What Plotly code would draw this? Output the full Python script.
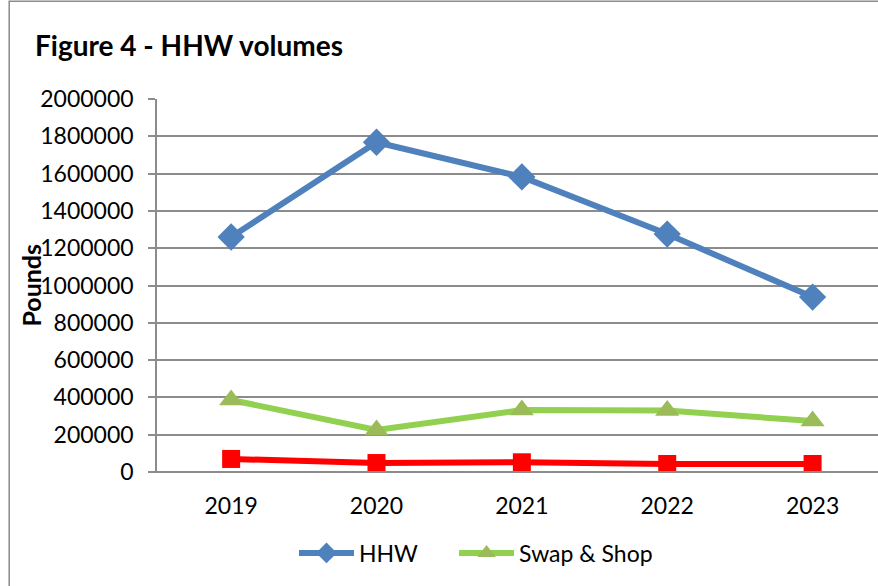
import plotly.graph_objects as go

years = ["2019", "2020", "2021", "2022", "2023"]
hhw = [1260000, 1768000, 1582000, 1276000, 938000]
swap_shop = [386000, 225000, 332000, 330000, 273000]
third_series = [70000, 48000, 52000, 43000, 43000]
y_ticks = [0, 200000, 400000, 600000, 800000, 1000000, 1200000, 1400000, 1600000, 1800000, 2000000]

FONT = "Lato, 'Open Sans', sans-serif"

fig = go.Figure()
fig.add_trace(go.Scatter(
    x=years, y=third_series, name="Series3", mode="lines+markers",
    line=dict(color="#FF0000", width=6),
    marker=dict(symbol="square", size=18, color="#FF0000"),
    showlegend=False))
fig.add_trace(go.Scatter(
    x=years, y=swap_shop, name="Swap & Shop", mode="lines+markers",
    line=dict(color="#92D050", width=6),
    marker=dict(symbol="triangle-up", size=21, color="#9BBB59"),
    legend="legend2"))
fig.add_trace(go.Scatter(
    x=years, y=hhw, name="HHW", mode="lines+markers",
    line=dict(color="#4F81BD", width=6),
    marker=dict(symbol="diamond", size=21, color="#4F81BD"),
    legend="legend"))

legend_common = dict(orientation="h", xanchor="left", y=-0.217, yanchor="middle",
                     font=dict(size=23), itemwidth=55, bgcolor="rgba(0,0,0,0)")

fig.update_layout(
    width=878, height=586,
    margin=dict(l=157, r=0, t=99, b=114),
    paper_bgcolor="white", plot_bgcolor="white",
    font=dict(family=FONT, size=23, color="#000000"),
    showlegend=True,
    legend=dict(x=0.19, **legend_common),
    legend2=dict(x=0.412, **legend_common),
    xaxis=dict(type="category", range=[-0.51, 4.45], showgrid=False,
               showline=False, ticks="", tickfont=dict(size=23), ticklabelstandoff=18),
    yaxis=dict(range=[0, 2000000], tickvals=y_ticks, ticktext=[str(v) for v in y_ticks],
               showgrid=True, gridcolor="#8C8C8C", gridwidth=1.5,
               showline=True, linecolor="#8C8C8C", linewidth=1.5,
               ticks="outside", ticklen=7, tickcolor="#8C8C8C", tickwidth=1.5,
               ticklabelstandoff=10,
               zeroline=False, tickfont=dict(size=23)),
    annotations=[
        dict(text="<b>Figure 4 - HHW volumes</b>", xref="paper", yref="paper",
             x=-0.172, y=1.145, xanchor="left", yanchor="middle", showarrow=False,
             font=dict(size=28)),
        dict(text="<b>Pounds</b>", xref="paper", yref="paper", textangle=-90,
             x=-0.176, y=0.50, xanchor="center", yanchor="middle", showarrow=False,
             font=dict(size=25)),
    ],
    shapes=[
        dict(type="rect", xref="paper", yref="paper", x0=-0.205, x1=1.05, y0=-0.5, y1=1.262,
             line=dict(color="#8C8C8C", width=1.5), layer="below"),
        dict(type="line", xref="paper", yref="paper", x0=-0.01, x1=1.0, y0=0, y1=0,
             line=dict(color="#8C8C8C", width=2)),
    ],
)

fig.write_html("out.html", config={"displayModeBar": False},
               post_script="document.body.style.margin='0';document.body.style.overflow='hidden';")
